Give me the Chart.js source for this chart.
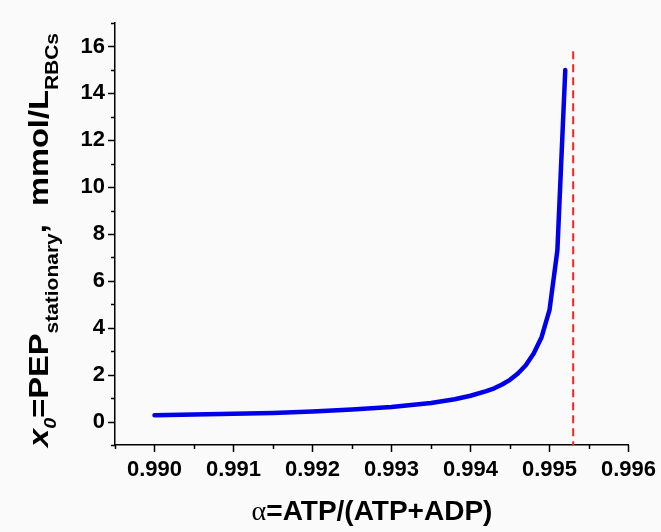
<!DOCTYPE html>
<html>
<head>
<meta charset="utf-8">
<script src="https://cdn.jsdelivr.net/npm/chart.js@4.4.1/dist/chart.umd.min.js"></script>
<style>
  html, body { margin: 0; padding: 0; background: #fafafa; }
  #wrap { width: 661px; height: 532px; }
</style>
</head>
<body>
<div id="wrap"><canvas id="chart" width="661" height="532"></canvas></div>
<script>
// alpha = ATP/(ATP+ADP)
const alpha = [0.9900, 0.9905, 0.9910, 0.9915, 0.9920, 0.9925, 0.9930, 0.9935, 0.9938,
               0.9940, 0.9942, 0.9943, 0.9944, 0.9945, 0.9946, 0.9947, 0.9948, 0.9949,
               0.9950, 0.9951, 0.9952];
// x0 = PEP stationary, mmol/L RBCs
const pep = [0.27, 0.30, 0.33, 0.37, 0.43, 0.51, 0.62, 0.79, 0.95,
             1.10, 1.30, 1.42, 1.58, 1.78, 2.05, 2.40, 2.90, 3.60,
             4.75, 7.30, 15.0];
// red dashed limit
const alphaLimit = 0.9953;
const limitY = [15.8, -1];

const xMin = 0.9895, xMax = 0.996, xStep = 0.0005;
const yMin = -1, yMax = 17, yStep = 1;

const FONT = '"Liberation Sans", Arial, sans-serif';

function isMajorX(v) { return Math.round(v * 10000) % 10 === 0; }
function isMajorY(v) { return v >= 0 && Math.round(v) % 2 === 0; }

// ticks drawn by hand so minor ones can be shorter
const tickMarks = {
  id: 'tickMarks',
  afterDraw(chart) {
    const ctx = chart.ctx;
    const xs = chart.scales.x, ys = chart.scales.y;
    const bottom = chart.chartArea.bottom, left = chart.chartArea.left;
    ctx.save();
    ctx.strokeStyle = '#000';
    ctx.lineWidth = 1.5;
    xs.ticks.forEach(t => {
      const px = Math.round(xs.getPixelForValue(t.value)) + 0.5;
      ctx.beginPath();
      ctx.moveTo(px, bottom);
      ctx.lineTo(px, bottom + (isMajorX(t.value) ? 7 : 4));
      ctx.stroke();
    });
    ys.ticks.forEach(t => {
      const py = Math.round(ys.getPixelForValue(t.value)) + 0.5;
      ctx.beginPath();
      ctx.moveTo(left, py);
      ctx.lineTo(left - (isMajorY(t.value) ? 7 : 4), py);
      ctx.stroke();
    });
    ctx.restore();
  }
};

// axis titles with subscripts and mixed fonts
const axisTitles = {
  id: 'axisTitles',
  afterDraw(chart) {
    const ctx = chart.ctx;
    ctx.save();
    ctx.fillStyle = '#000';
    ctx.textBaseline = 'alphabetic';
    ctx.textAlign = 'left';

    // x title
    const xParts = [
      { t: 'α', f: '28px "Liberation Serif", "Times New Roman", serif' },
      { t: '=ATP/(ATP+ADP)', f: 'bold 28px ' + FONT }
    ];
    let w = 0;
    xParts.forEach(p => { ctx.font = p.f; w += ctx.measureText(p.t).width; });
    let x = 372 - w / 2;
    xParts.forEach(p => { ctx.font = p.f; ctx.fillText(p.t, x, 520); x += ctx.measureText(p.t).width; });

    // y title, rotated and stretched along its length
    const yParts = [
      { t: 'x', f: 'italic bold 28px ' + FONT, d: 0 },
      { t: '0', f: 'italic bold 17px ' + FONT, d: 8 },
      { t: '=PEP', f: 'bold 28px ' + FONT, d: 0 },
      { t: 'stationary', f: 'bold 18px ' + FONT, d: 10 },
      { t: ',', f: 'bold 28px ' + FONT, d: -2 },
      { t: '  mmol/L', f: 'bold 28px ' + FONT, d: 0 },
      { t: 'RBCs', f: 'bold 18px ' + FONT, d: 10 }
    ];
    let total = 0;
    yParts.forEach(p => { ctx.font = p.f; total += ctx.measureText(p.t).width; });
    ctx.translate(48, 447);
    ctx.rotate(-Math.PI / 2);
    ctx.scale(414 / total, 1);
    let pos = 0;
    yParts.forEach(p => {
      ctx.font = p.f;
      ctx.fillText(p.t, pos, p.d);
      pos += ctx.measureText(p.t).width;
    });
    ctx.restore();
  }
};

new Chart(document.getElementById('chart'), {
  type: 'scatter',
  data: {
    datasets: [
      {
        data: alpha.map((a, i) => ({ x: a, y: pep[i] })),
        showLine: true,
        borderColor: 'rgb(0,0,235)',
        borderWidth: 4.5,
        borderCapStyle: 'round',
        borderJoinStyle: 'round',
        pointRadius: 0,
        tension: 0
      },
      {
        data: limitY.map(v => ({ x: alphaLimit, y: v })),
        showLine: true,
        borderColor: '#ff2020',
        borderWidth: 2,
        borderDash: [8, 5],
        pointRadius: 0
      }
    ]
  },
  options: {
    responsive: false,
    animation: false,
    layout: { padding: { left: 0, right: 28, top: 23, bottom: 0 } },
    plugins: { legend: { display: false }, tooltip: { enabled: false } },
    scales: {
      x: {
        type: 'linear',
        min: xMin, max: xMax,
        afterFit(scale) { scale.height = 87; },
        grid: { display: false, drawTicks: true, tickLength: 7 },
        border: { display: true, color: '#000', width: 1.5 },
        ticks: {
          stepSize: xStep,
          autoSkip: false,
          maxRotation: 0,
          padding: 5,
          color: '#000',
          font: { family: FONT, size: 22, weight: 'bold' },
          callback: v => isMajorX(v) ? v.toFixed(3) : ''
        }
      },
      y: {
        type: 'linear',
        min: yMin, max: yMax,
        afterFit(scale) { scale.width = 115; },
        grid: { display: false, drawTicks: true, tickLength: 7 },
        border: { display: true, color: '#000', width: 1.5 },
        ticks: {
          stepSize: yStep,
          autoSkip: false,
          padding: 3,
          color: '#000',
          font: { family: FONT, size: 22, weight: 'bold' },
          callback: v => isMajorY(v) ? String(Math.round(v)) : ''
        }
      }
    }
  },
  plugins: [tickMarks, axisTitles]
});
</script>
</body>
</html>
